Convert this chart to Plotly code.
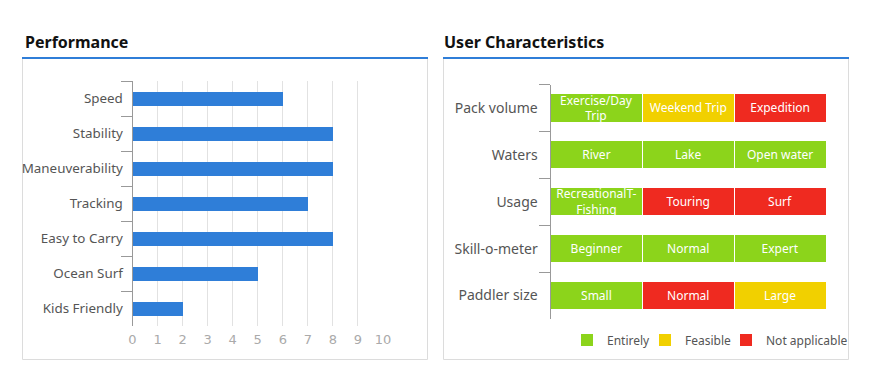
import plotly.graph_objects as go

W, H = 870, 388

# ---- Data ----
perf_categories = ["Speed", "Stability", "Maneuverability", "Tracking", "Easy to Carry", "Ocean Surf", "Kids Friendly"]
perf_values = [6, 8, 8, 7, 8, 5, 2]
perf_ticks = [0, 1, 2, 3, 4, 5, 6, 7, 8, 9, 10]

user_rows = ["Pack volume", "Waters", "Usage", "Skill-o-meter", "Paddler size"]
col1_labels = ["Exercise/Day<br>Trip", "River", "RecreationalT-<br>Fishing", "Beginner", "Small"]
col2_labels = ["Weekend Trip", "Lake", "Touring", "Normal", "Normal"]
col3_labels = ["Expedition", "Open water", "Surf", "Expert", "Large"]
col1_status = ["Entirely", "Entirely", "Entirely", "Entirely", "Entirely"]
col2_status = ["Feasible", "Entirely", "Not applicable", "Entirely", "Not applicable"]
col3_status = ["Not applicable", "Entirely", "Not applicable", "Entirely", "Feasible"]
cell_values = [1, 1, 1, 1, 1]
status_names = ["Entirely", "Feasible", "Not applicable"]
status_colors = {"Entirely": "#8cd41b", "Feasible": "#f1d000", "Not applicable": "#ef2a20"}

BLUE = "#2f7ed8"
FONT = "Noto Sans"

def px_x(v):
    return v / W

def px_y(v):
    return 1 - v / H

fig = go.Figure()

# Left: performance bars
fig.add_trace(go.Bar(
    x=perf_values, y=perf_categories, orientation="h",
    marker=dict(color=BLUE, line=dict(width=0)),
    width=0.4, showlegend=False, xaxis="x", yaxis="y", hoverinfo="x+y",
))

# Right: characteristics cells
for labels, statuses in [(col1_labels, col1_status), (col2_labels, col2_status), (col3_labels, col3_status)]:
    fig.add_trace(go.Bar(
        x=cell_values, y=user_rows, orientation="h",
        marker=dict(color=[status_colors[s] for s in statuses], line=dict(color="white", width=1)),
        width=0.6, text=labels, textposition="inside", insidetextanchor="middle",
        constraintext="none", textfont=dict(color="white", size=12, family=FONT),
        showlegend=False, xaxis="x2", yaxis="y2", hoverinfo="text",
    ))

legend_ids = ["legend", "legend2", "legend3"]
legend_px = [567, 645, 726]
for name, lid in zip(status_names, legend_ids):
    fig.add_trace(go.Scatter(
        x=[None], y=[None], mode="markers", name=name, legend=lid,
        marker=dict(symbol="square", size=12, color=status_colors[name]),
        xaxis="x2", yaxis="y2",
    ))

legend_style = dict(
    orientation="h", xanchor="left", yanchor="middle",
    font=dict(size=12, color="#555"), bgcolor="rgba(0,0,0,0)", traceorder="normal",
    itemclick=False, itemdoubleclick=False,
)

fig.update_layout(
    width=W, height=H,
    margin=dict(l=0, r=0, t=0, b=0, autoexpand=False),
    paper_bgcolor="white", plot_bgcolor="white",
    font=dict(family=FONT, color="#555"),
    barmode="stack",
    xaxis=dict(
        domain=[px_x(132.5), px_x(383)], range=[0, 10],
        tickvals=perf_ticks, showgrid=True, gridcolor="#e2e2e2", gridwidth=1,
        zeroline=False, showline=False, ticks="outside", ticklen=1, tickcolor="rgba(0,0,0,0)",
        tickfont=dict(size=13, color="#aaa", family="DejaVu Sans"), anchor="y", fixedrange=True,
        automargin=False,
    ),
    yaxis=dict(
        domain=[px_y(326), px_y(81)], type="category",
        categoryorder="array", categoryarray=perf_categories, autorange="reversed",
        showline=True, linecolor="#999", linewidth=1,
        ticks="outside", tickson="boundaries", ticklen=11, tickcolor="#999",
        ticklabelstandoff=6,
        tickfont=dict(size=13.4, color="#555"), showgrid=False, anchor="x", fixedrange=True,
        automargin=False,
    ),
    xaxis2=dict(
        domain=[px_x(550.5), px_x(826)], range=[0, 3],
        visible=False, anchor="y2", fixedrange=True, automargin=False,
    ),
    yaxis2=dict(
        domain=[px_y(319), px_y(84.5)], type="category",
        categoryorder="array", categoryarray=user_rows, autorange="reversed",
        showline=True, linecolor="#999", linewidth=1,
        ticks="outside", tickson="boundaries", ticklen=11, tickcolor="#999",
        ticklabelstandoff=9,
        tickfont=dict(size=14, color="#555"), showgrid=False, anchor="x2", fixedrange=True,
        automargin=False,
    ),
    legend=dict(x=px_x(legend_px[0]), y=px_y(340), **legend_style),
    legend2=dict(x=px_x(legend_px[1]), y=px_y(340), **legend_style),
    legend3=dict(x=px_x(legend_px[2]), y=px_y(340), **legend_style),
    shapes=[
        dict(type="rect", xref="paper", yref="paper", x0=px_x(22.5), x1=px_x(427.5), y0=px_y(359.5), y1=px_y(58),
             line=dict(color="#dcdcdc", width=1), layer="below"),
        dict(type="rect", xref="paper", yref="paper", x0=px_x(443.5), x1=px_x(848.5), y0=px_y(359.5), y1=px_y(58),
             line=dict(color="#dcdcdc", width=1), layer="below"),
        dict(type="line", xref="paper", yref="paper", x0=px_x(22), x1=px_x(428), y0=px_y(58), y1=px_y(58),
             line=dict(color=BLUE, width=2)),
        dict(type="line", xref="paper", yref="paper", x0=px_x(443), x1=px_x(849), y0=px_y(58), y1=px_y(58),
             line=dict(color=BLUE, width=2)),
    ],
    annotations=[
        dict(text="<b>Performance</b>", xref="paper", yref="paper", x=px_x(23), y=px_y(42),
             xanchor="left", yanchor="middle", showarrow=False, font=dict(size=16, color="#111", family=FONT)),
        dict(text="<b>User Characteristics</b>", xref="paper", yref="paper", x=px_x(442), y=px_y(42),
             xanchor="left", yanchor="middle", showarrow=False, font=dict(size=16, color="#111", family=FONT)),
    ],
)

fig.write_html("out.html")
